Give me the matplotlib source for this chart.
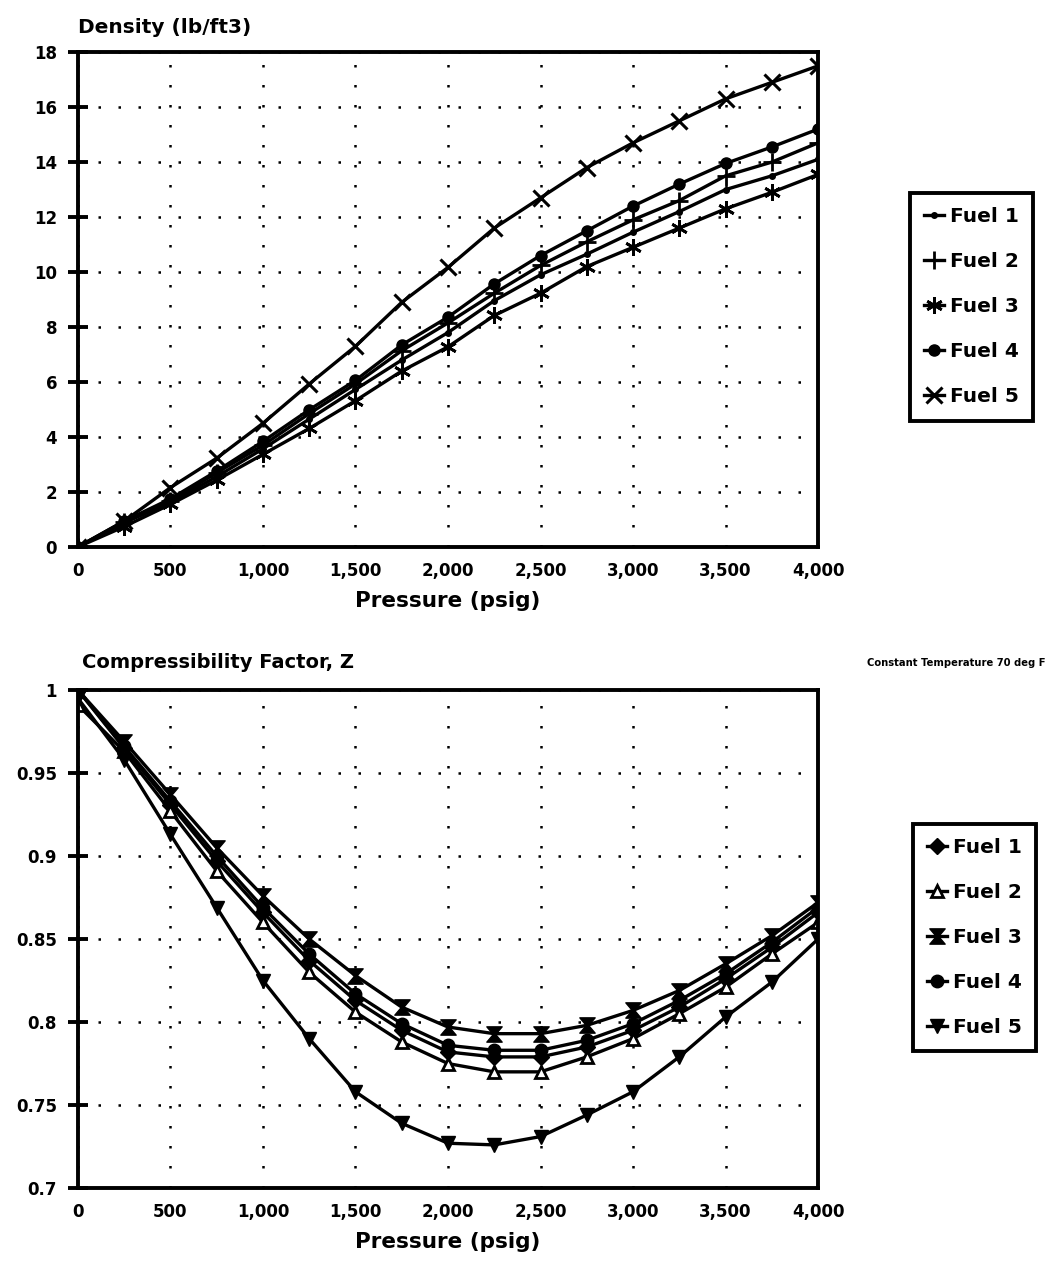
import matplotlib
matplotlib.use("Agg")
import matplotlib.pyplot as plt
from matplotlib.path import Path
from matplotlib.ticker import FuncFormatter

plt.rcParams['font.family'] = ['DejaVu Sans']
plt.rcParams['font.weight'] = 'bold'

pressure = [0, 250, 500, 750, 1000, 1250, 1500, 1750, 2000, 2250, 2500, 2750, 3000, 3250, 3500, 3750, 4000]
fuels = ["Fuel 1", "Fuel 2", "Fuel 3", "Fuel 4", "Fuel 5"]

density_f1 = [0, 0.88, 1.62, 2.56, 3.57, 4.65, 5.73, 6.8, 7.8, 8.96, 9.9, 10.65, 11.45, 12.2, 13.0, 13.5, 14.1]
density_f2 = [0, 0.9, 1.68, 2.7, 3.7, 4.85, 5.93, 7.14, 8.15, 9.23, 10.24, 11.1, 11.9, 12.6, 13.5, 14.0, 14.7]
density_f3 = [0, 0.74, 1.55, 2.43, 3.37, 4.31, 5.32, 6.4, 7.28, 8.42, 9.23, 10.2, 10.9, 11.6, 12.3, 12.9, 13.55]
density_f4 = [0, 0.94, 1.75, 2.76, 3.84, 4.99, 6.06, 7.35, 8.36, 9.57, 10.6, 11.5, 12.4, 13.2, 13.95, 14.55, 15.2]
density_f5 = [0, 0.94, 2.16, 3.23, 4.5, 5.93, 7.3, 8.9, 10.17, 11.6, 12.7, 13.8, 14.7, 15.5, 16.3, 16.9, 17.5]

z_f1 = [1.0, 0.965, 0.931, 0.897, 0.866, 0.837, 0.813, 0.795, 0.782, 0.779, 0.779, 0.785, 0.795, 0.809, 0.826, 0.845, 0.866]
z_f2 = [0.991, 0.963, 0.927, 0.891, 0.860, 0.830, 0.806, 0.788, 0.775, 0.770, 0.770, 0.779, 0.790, 0.805, 0.821, 0.841, 0.860]
z_f3 = [1.0, 0.969, 0.937, 0.905, 0.876, 0.850, 0.828, 0.809, 0.797, 0.793, 0.793, 0.798, 0.807, 0.819, 0.835, 0.852, 0.872]
z_f4 = [1.0, 0.966, 0.933, 0.900, 0.869, 0.841, 0.817, 0.799, 0.786, 0.783, 0.783, 0.789, 0.799, 0.813, 0.829, 0.848, 0.869]
z_f5 = [0.995, 0.958, 0.913, 0.869, 0.825, 0.790, 0.758, 0.739, 0.727, 0.726, 0.731, 0.744, 0.758, 0.779, 0.803, 0.824, 0.850]

density_ticks = [0, 2, 4, 6, 8, 10, 12, 14, 16, 18]
z_ticks = [0.7, 0.75, 0.8, 0.85, 0.9, 0.95, 1.0]
x_ticks = [0, 500, 1000, 1500, 2000, 2500, 3000, 3500, 4000]

hourglass = Path([(-1, 1), (1, 1), (0.15, 0), (1, -1), (-1, -1), (-0.15, 0), (-1, 1)],
                 [Path.MOVETO, Path.LINETO, Path.LINETO, Path.LINETO, Path.LINETO, Path.LINETO, Path.CLOSEPOLY])

fig = plt.figure(figsize=(10.52, 12.72), dpi=100)
ax1 = fig.add_axes([0.0741, 0.570, 0.7035, 0.389])
ax2 = fig.add_axes([0.0741, 0.066, 0.7035, 0.3915])

top_styles = [
    dict(marker='o', ms=4, mfc='black'),
    dict(marker='+', ms=13, mew=2),
    dict(marker=(6, 2, 0), ms=12, mew=2),
    dict(marker='o', ms=8, mfc='black'),
    dict(marker='x', ms=12, mew=2.2),
]
bot_styles = [
    dict(marker='D', ms=8, mfc='black'),
    dict(marker='^', ms=9, mfc='white', mew=2),
    dict(marker=hourglass, ms=11, mfc='black'),
    dict(marker='o', ms=9, mfc='black'),
    dict(marker='v', ms=10, mfc='black'),
]

for data, st, name in zip([density_f1, density_f2, density_f3, density_f4, density_f5], top_styles, fuels):
    ax1.plot(pressure, data, color='black', lw=2.4, mec='black', label=name, **st)
for data, st, name in zip([z_f1, z_f2, z_f3, z_f4, z_f5], bot_styles, fuels):
    ax2.plot(pressure, data, color='black', lw=2.4, mec='black', label=name, **st)

fmt = FuncFormatter(lambda v, p: f"{int(v):,}")
for ax in (ax1, ax2):
    ax.set_xlim(0, 4000)
    ax.set_xticks(x_ticks)
    ax.xaxis.set_major_formatter(fmt)
    ax.grid(True, color='black', linestyle=(0, (1, 7)), linewidth=1.8)
    for s in ax.spines.values():
        s.set_linewidth(2.8)
    ax.tick_params(axis='x', length=0, labelsize=12, pad=11)
    ax.tick_params(axis='y', direction='inout', length=14, width=2.8, labelsize=12, pad=8)
    for lab in ax.get_xticklabels() + ax.get_yticklabels():
        lab.set_fontweight('bold')
    ax.set_xlabel("Pressure (psig)", fontsize=15.5, fontweight='bold', labelpad=8)

ax1.set_ylim(0, 18)
ax1.set_yticks(density_ticks)
ax2.set_ylim(0.7, 1.0)
ax2.set_yticks(z_ticks)
ax2.yaxis.set_major_formatter(FuncFormatter(lambda v, p: f"{v:g}"))

fig.text(0.074, 0.978, "Density (lb/ft3)", fontsize=14.5, fontweight='bold', ha='left', va='center')
fig.text(0.078, 0.479, "Compressibility Factor, Z", fontsize=14, fontweight='bold', ha='left', va='center')
fig.text(0.994, 0.479, "Constant Temperature 70 deg F", fontsize=7.2, fontweight='bold', ha='right', va='center')

for ax, anchor in ((ax1, (0.855, 0.759)), (ax2, (0.858, 0.263))):
    leg = fig.legend(handles=ax.get_lines(), labels=fuels, loc='center left', bbox_to_anchor=anchor,
                     frameon=True, fancybox=False, edgecolor='black', framealpha=1, fontsize=14.5,
                     handlelength=1.0, handletextpad=0.3, labelspacing=1.3, borderpad=0.7)
    leg.get_frame().set_linewidth(2.8)
    for t in leg.get_texts():
        t.set_fontweight('bold')

fig.savefig("out.png", dpi=100, facecolor='white')
